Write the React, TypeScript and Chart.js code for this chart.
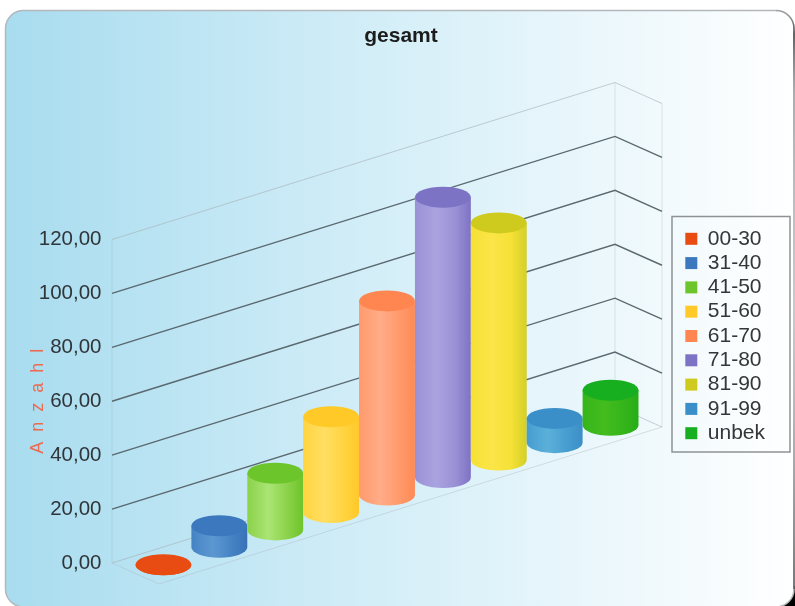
import React, { useEffect, useRef } from "react";
import { Chart, registerables } from "chart.js";

Chart.register(...registerables);

const categories = ["00-30", "31-40", "41-50", "51-60", "61-70", "71-80", "81-90", "91-99", "unbek"];
const values = [0, 8, 21, 35.5, 72, 104, 88, 9, 13];
const swatchColors = ["#e84c12", "#3b78bd", "#6cc52b", "#ffc928", "#ff8650", "#7d73c4", "#cfcb1e", "#3a8fc9", "#17ae1f"];
const bodyLeft = ["#e84c12", "#4683c4", "#8bd24a", "#ffd440", "#ff9a6c", "#9a91d6", "#f6e136", "#479dd0", "#35b51a"];
const bodyHighlight = ["#e84c12", "#5b98d2", "#aae574", "#ffde62", "#ffac88", "#aaa3e0", "#fbe548", "#5bb0da", "#44bc1e"];
const bodyRight = ["#e84c12", "#3772b6", "#6ec42a", "#ffc92a", "#ff8a55", "#7e73c4", "#d3cf28", "#3c8fc7", "#27ad18"];
const tickStep = 20;
const axisMax = 120;
const axisTitle = "A  n  z  a  h  l";
const chartTitle = "gesamt";

const backRun = 157;
const depthX = 47;
const depthY = 21;

const numberFormat = new Intl.NumberFormat("de-DE", { minimumFractionDigits: 2, maximumFractionDigits: 2 });

const scene = {
  id: "scene",
  beforeDraw(chart: any) {
    const { ctx, width, height, chartArea, scales } = chart;
    ctx.save();
    ctx.fillStyle = "#ffffff";
    ctx.fillRect(0, 0, width, height);
    ctx.fillStyle = "#000000";
    ctx.fillRect(775, 586, 20, 20);
    const left = 5.5, top = 10.5, right = 794, bottom = 607, r = 18;
    const g = ctx.createLinearGradient(left, 0, right, 0);
    g.addColorStop(0, "#a8dcef");
    g.addColorStop(0.5, "#d6eff8");
    g.addColorStop(1, "#ffffff");
    ctx.beginPath();
    ctx.roundRect(left, top, right - left, bottom - top, r);
    ctx.fillStyle = g;
    ctx.fill();
    ctx.strokeStyle = "#b4b8bb";
    ctx.lineWidth = 1.5;
    ctx.stroke();
    const edge = ctx.createLinearGradient(0, top, 0, bottom);
    edge.addColorStop(0, "rgba(120,120,120,0.3)");
    edge.addColorStop(0.04, "rgba(50,50,50,0.9)");
    edge.addColorStop(0.14, "rgba(120,120,120,0.45)");
    edge.addColorStop(0.5, "rgba(200,200,200,0.3)");
    edge.addColorStop(1, "rgba(50,50,50,0.8)");
    ctx.beginPath();
    ctx.moveTo(right - r, top);
    ctx.arcTo(right, top, right, top + r, r);
    ctx.lineTo(right, bottom - r);
    ctx.strokeStyle = edge;
    ctx.stroke();

    const L = chartArea.left, R = chartArea.right;
    const y0 = scales.y.getPixelForValue(0);
    const yMax = scales.y.getPixelForValue(axisMax);
    // walls
    ctx.lineWidth = 1;
    ctx.strokeStyle = "rgba(150,165,175,0.28)";
    for (const [x, a, b] of [
      [L, yMax, y0],
      [R, yMax - backRun, y0 - backRun],
      [R + depthX, yMax - backRun + depthY, y0 - backRun + depthY],
    ]) {
      ctx.beginPath();
      ctx.moveTo(x, a);
      ctx.lineTo(x, b);
      ctx.stroke();
    }
    // floor
    ctx.beginPath();
    ctx.moveTo(L, y0);
    ctx.lineTo(L + depthX, y0 + depthY);
    ctx.lineTo(R + depthX, y0 - backRun + depthY);
    ctx.strokeStyle = "rgba(170,180,185,0.4)";
    ctx.stroke();
    // grid lines
    for (const t of scales.y.ticks) {
      const y = scales.y.getPixelForValue(t.value);
      const strong = t.value !== 0 && t.value !== axisMax;
      ctx.beginPath();
      ctx.moveTo(L, y);
      ctx.lineTo(R, y - backRun);
      ctx.lineTo(R + depthX, y - backRun + depthY);
      ctx.strokeStyle = strong ? "#5a686f" : "rgba(165,175,180,0.6)";
      ctx.lineWidth = strong ? 1.4 : 1;
      ctx.stroke();
    }
    ctx.restore();
  },
  beforeDatasetDraw(chart: any) {
    const { ctx, chartArea } = chart;
    const meta = chart.getDatasetMeta(0);
    const span = chartArea.right - chartArea.left;
    const slope = backRun / span;
    ctx.save();
    meta.data.forEach((bar: any, i: number) => {
      const step = span / categories.length;
      const rx = step / 2;
      const ry = 10.5;
      const cx = bar.x + depthX / 2;
      const shift = -(bar.x - chartArea.left) * slope + depthY / 2;
      const yBase = bar.base + shift;
      const yTop = bar.y + shift;
      const g = ctx.createLinearGradient(cx - rx, 0, cx + rx, 0);
      g.addColorStop(0, bodyLeft[i]);
      g.addColorStop(0.38, bodyHighlight[i]);
      g.addColorStop(0.72, bodyLeft[i]);
      g.addColorStop(1, bodyRight[i]);
      ctx.beginPath();
      ctx.moveTo(cx - rx, yTop);
      ctx.lineTo(cx - rx, yBase);
      ctx.ellipse(cx, yBase, rx, ry, 0, Math.PI, 0, true);
      ctx.lineTo(cx + rx, yTop);
      ctx.closePath();
      ctx.fillStyle = g;
      ctx.fill();
      ctx.beginPath();
      ctx.ellipse(cx, yTop, rx, ry, 0, 0, Math.PI * 2);
      ctx.fillStyle = swatchColors[i];
      ctx.fill();
    });
    ctx.restore();
    return false;
  },
  afterLayout(chart: any) {
    const l = chart.legend;
    if (l) {
      l.left = 682;
      l.right = 790;
      l.top = 225;
      l.bottom = 452;
      l.width = l.right - l.left;
      l.height = l.bottom - l.top;
    }
    const t = chart.titleBlock;
    if (t) {
      const h = t.bottom - t.top;
      t.left = 0;
      t.right = 802;
      t.width = 802;
      t.top = 0;
      t.bottom = h;
    }
  },
  beforeDatasetsDraw(chart: any) {
    const { ctx } = chart;
    ctx.save();
    ctx.strokeStyle = "#8f9294";
    ctx.lineWidth = 1.5;
    ctx.strokeRect(672, 216.5, 118, 235.5);
    ctx.restore();
  },
};

export default function App() {
  const ref = useRef<HTMLCanvasElement>(null);
  useEffect(() => {
    const chart = new Chart(ref.current as HTMLCanvasElement, {
      type: "bar",
      data: {
        labels: categories,
        datasets: [{ label: chartTitle, data: values, backgroundColor: swatchColors, categoryPercentage: 1, barPercentage: 1 }],
      },
      plugins: [scene],
      options: {
        animation: false,
        responsive: false,
        devicePixelRatio: 1,
        layout: { padding: { top: 182.3, right: 180, bottom: 43, left: 0 } },
        scales: {
          x: { display: false },
          y: {
            min: 0,
            max: axisMax,
            afterFit(scale: any) {
              scale.width = 112;
            },
            grid: { display: false },
            border: { display: false },
            ticks: {
              stepSize: tickStep,
              padding: 2.5,
              color: "#2f3538",
              font: { family: "Liberation Sans", size: 20.5 },
              callback: (v: any) => numberFormat.format(v),
            },
            title: {
              display: true,
              text: axisTitle,
              color: "#ec6a50",
              font: { family: "Liberation Sans", size: 18 },
              padding: { top: 27, bottom: 0 },
            },
          },
        },
        plugins: {
          tooltip: { enabled: false },
          title: {
            display: true,
            text: chartTitle,
            color: "#1c1c1c",
            font: { family: "Liberation Sans", size: 21, weight: "bold" },
            padding: { top: 24, bottom: 8 },
          },
          legend: {
            position: "chartArea",
            align: "start",
            labels: {
              color: "#34373a",
              font: { family: "Liberation Sans", size: 21 },
              boxWidth: 12,
              boxHeight: 12,
              padding: 3.3,
              generateLabels: () =>
                categories.map((text, i) => ({
                  text,
                  fillStyle: swatchColors[i],
                  strokeStyle: swatchColors[i],
                  lineWidth: 0,
                  fontColor: "#34373a",
                  hidden: false,
                  index: i,
                  datasetIndex: 0,
                })),
            },
          },
        },
      } as any,
    });
    return () => chart.destroy();
  }, []);
  return (
    <div style={{ position: "absolute", left: 0, top: 0, width: 795, height: 606 }}>
      <canvas ref={ref} width={795} height={606} style={{ display: "block", width: 795, height: 606 }} />
    </div>
  );
}
